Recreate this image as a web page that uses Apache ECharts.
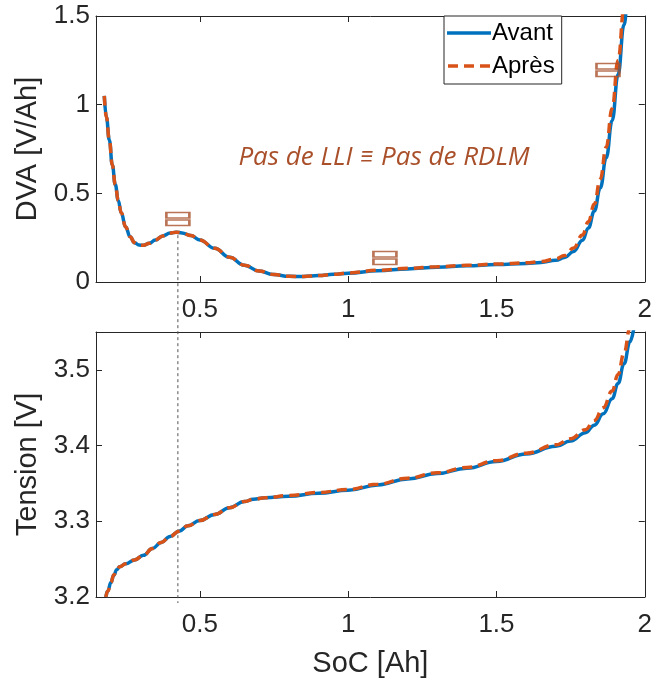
<!DOCTYPE html>
<html>
<head>
<meta charset="utf-8">
<script src="https://cdn.jsdelivr.net/npm/echarts@6/dist/echarts.min.js"></script>
<style>
html,body{margin:0;padding:0;background:#fff;}
#c{width:655px;height:684px;}
</style>
</head>
<body>
<div id="c"></div>
<script>
// ---- data ----
const dvaSoc = [0.178,0.185,0.195,0.205,0.215,0.225,0.235,0.25,0.265,0.28,0.295,0.31,0.33,0.35,0.375,0.40,0.42,0.44,0.47,0.50,0.55,0.60,0.65,0.70,0.75,0.80,0.85,0.90,0.95,1.00,1.10,1.20,1.30,1.40,1.50,1.60,1.65,1.70,1.73,1.76,1.79,1.81,1.83,1.85,1.87,1.89,1.91,1.93,1.945,1.96];
const dvaAvant = [1.05,0.93,0.80,0.66,0.55,0.46,0.39,0.31,0.255,0.222,0.208,0.207,0.218,0.237,0.26,0.276,0.281,0.277,0.262,0.237,0.19,0.14,0.095,0.062,0.042,0.032,0.031,0.036,0.043,0.05,0.063,0.074,0.083,0.091,0.098,0.105,0.110,0.122,0.138,0.172,0.235,0.305,0.40,0.53,0.70,0.91,1.17,1.45,1.65,1.90];
const dvaApres = [1.05,0.93,0.80,0.66,0.55,0.46,0.39,0.31,0.255,0.222,0.208,0.207,0.218,0.237,0.26,0.276,0.281,0.277,0.262,0.237,0.19,0.14,0.095,0.062,0.042,0.032,0.031,0.036,0.043,0.051,0.066,0.077,0.086,0.094,0.101,0.108,0.115,0.130,0.150,0.192,0.265,0.34,0.44,0.58,0.76,0.98,1.25,1.54,1.75,2.00];

const vSoc = [0.183,0.19,0.20,0.21,0.22,0.23,0.25,0.28,0.31,0.34,0.37,0.40,0.43,0.46,0.50,0.55,0.60,0.65,0.68,0.72,0.80,0.90,1.00,1.10,1.20,1.30,1.40,1.50,1.60,1.70,1.75,1.80,1.83,1.86,1.89,1.91,1.93,1.95,1.965];
const vAvant = [3.200,3.208,3.219,3.229,3.236,3.240,3.244,3.249,3.255,3.264,3.272,3.280,3.287,3.294,3.301,3.309,3.318,3.326,3.329,3.331,3.333,3.337,3.341,3.348,3.356,3.363,3.370,3.379,3.389,3.399,3.406,3.417,3.427,3.442,3.462,3.482,3.508,3.537,3.560];
const vApres = [3.200,3.208,3.219,3.229,3.236,3.240,3.244,3.249,3.255,3.264,3.272,3.280,3.287,3.294,3.301,3.309,3.318,3.326,3.329,3.331,3.334,3.338,3.342,3.349,3.357,3.364,3.371,3.380,3.390,3.401,3.409,3.421,3.433,3.450,3.472,3.494,3.522,3.555,3.580];

const xTicks = [0.5, 1, 1.5, 2];
const dvaTicks = [0, 0.5, 1, 1.5];
const vTicks = [3.2, 3.3, 3.4, 3.5];
const seriesNames = ['Avant', 'Après'];
const annotationPts = [[0.426, 0.355], [1.124, 0.135], [1.876, 1.196]];
const markerSoc = 0.426;
const annotationText = 'Pas de LLI \u2261 Pas de RDLM';

// ---- style ----
const AX = '#262626';
const BLUE = '#0072BD';
const ORANGE = '#D95319';
const BROWN = '#A9502B';
const FONT = 'Liberation Sans, Arial, sans-serif';

function zip(xs, ys) { return xs.map((x, i) => [x, ys[i]]); }
const fmt = v => String(+(+v).toFixed(2));

function xAx(grid, pos, withLabels, name) {
  return {
    type: 'value', gridIndex: grid, position: pos, min: 0.15, max: 2,
    axisLine: {show: true, onZero: false, lineStyle: {color: AX, width: 1}},
    axisTick: {show: true, inside: true, length: 6, customValues: xTicks, lineStyle: {color: AX}},
    axisLabel: {show: withLabels, customValues: xTicks, formatter: fmt, margin: 15,
      color: AX, fontSize: 26, fontFamily: FONT},
    splitLine: {show: false},
    name: name || '', nameLocation: 'middle', nameGap: 52,
    nameTextStyle: {color: AX, fontSize: 29, fontFamily: FONT}
  };
}
function yAx(grid, pos, min, max, ticks, withLabels, name) {
  return {
    type: 'value', gridIndex: grid, position: pos, min: min, max: max,
    axisLine: {show: true, onZero: false, lineStyle: {color: AX, width: 1}},
    axisTick: {show: true, inside: true, length: 6, customValues: ticks, lineStyle: {color: AX}},
    axisLabel: {show: withLabels, customValues: ticks, formatter: fmt, margin: 6,
      color: AX, fontSize: 26, fontFamily: FONT},
    splitLine: {show: false},
    name: name || '', nameLocation: 'middle', nameGap: 53, nameRotate: 90,
    nameTextStyle: {color: AX, fontSize: 29, fontFamily: FONT}
  };
}

const chart = echarts.init(document.getElementById('c'), null, {renderer: 'canvas'});

const lineCommon = {type: 'line', showSymbol: false, symbol: 'none', smooth: 0.45, smoothMonotone: 'x', clip: true, animation: false};

chart.setOption({
  animation: false,
  backgroundColor: '#fff',
  grid: [
    {left: 96, top: 16, width: 551, height: 266},
    {left: 96, top: 332, width: 551, height: 265}
  ],
  xAxis: [
    xAx(0, 'bottom', true),
    xAx(1, 'bottom', true, 'SoC [Ah]'),
    xAx(0, 'top', false),
    xAx(1, 'top', false)
  ],
  yAxis: [
    yAx(0, 'left', 0, 1.5, dvaTicks, true, 'DVA [V/Ah]'),
    yAx(1, 'left', 3.2, 3.55, vTicks, true, 'Tension [V]'),
    yAx(0, 'right', 0, 1.5, dvaTicks, false),
    yAx(1, 'right', 3.2, 3.55, vTicks, false)
  ],
  legend: {
    data: [
      {name: seriesNames[0], icon: 'path://M0,0H44V3.5H0Z', itemStyle: {color: BLUE}},
      {name: seriesNames[1], icon: 'path://M0,0H10V3.5H0Z M16,0H26V3.5H16Z M32,0H42V3.5H32Z', itemStyle: {color: ORANGE}}
    ],
    orient: 'vertical', left: 444, top: 16,
    padding: [5, 7, 6, 3], itemGap: 9, itemWidth: 44, itemHeight: 3.5,
    backgroundColor: '#fff', borderColor: AX, borderWidth: 1, borderRadius: 0,
    textStyle: {color: '#000', fontSize: 24, fontFamily: FONT, padding: [0, 0, 0, -4]}
  },
  series: [
    Object.assign({}, lineCommon, {name: seriesNames[0], xAxisIndex: 0, yAxisIndex: 0,
      data: zip(dvaSoc, dvaAvant), lineStyle: {color: BLUE, width: 3.5}, itemStyle: {color: BLUE}, z: 2}),
    Object.assign({}, lineCommon, {name: seriesNames[1], xAxisIndex: 0, yAxisIndex: 0,
      data: zip(dvaSoc, dvaApres), lineStyle: {color: ORANGE, width: 3.5, type: [10, 6]}, itemStyle: {color: ORANGE}, z: 3}),
    Object.assign({}, lineCommon, {name: seriesNames[0], xAxisIndex: 1, yAxisIndex: 1,
      data: zip(vSoc, vAvant), lineStyle: {color: BLUE, width: 3.5}, itemStyle: {color: BLUE}, z: 2}),
    Object.assign({}, lineCommon, {name: seriesNames[1], xAxisIndex: 1, yAxisIndex: 1,
      data: zip(vSoc, vApres), lineStyle: {color: ORANGE, width: 3.5, type: [10, 6]}, itemStyle: {color: ORANGE}, z: 3}),
    {type: 'scatter', name: 'equiv', xAxisIndex: 0, yAxisIndex: 0, data: annotationPts, silent: true,
      symbol: 'path://M0,0H22V5.5H0Z M0,7.5H22V13H0Z', symbolSize: [23, 13],
      itemStyle: {color: 'rgba(0,0,0,0)', borderColor: BROWN, borderWidth: 2}, z: 4}
  ]
});

// dotted marker line spanning both panels + annotation text
const peakY = dvaAvant[dvaSoc.indexOf(0.42)];
const pTop = chart.convertToPixel({xAxisIndex: 0, yAxisIndex: 0}, [markerSoc, peakY]);
const pBot = chart.convertToPixel({xAxisIndex: 1, yAxisIndex: 1}, [markerSoc, 3.2]);
chart.setOption({
  graphic: [
    {type: 'line', z: 1, silent: true,
      shape: {x1: pTop[0], y1: pTop[1] + 3, x2: pBot[0], y2: pBot[1] + 6},
      style: {stroke: '#555', lineWidth: 1, lineDash: [3, 3]}},
    {type: 'text', x: 384, y: 158, silent: true,
      style: {text: annotationText, fill: BROWN, fontSize: 26, fontStyle: 'italic',
        fontFamily: 'Open Sans, Lato, sans-serif', align: 'center', verticalAlign: 'middle'}}
  ]
});
</script>
</body>
</html>
